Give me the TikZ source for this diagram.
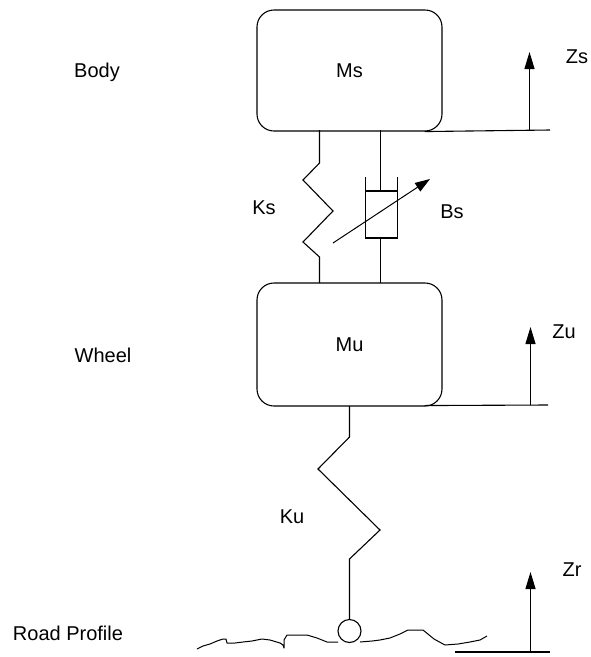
\documentclass[tikz,border=0pt]{standalone}
\usepackage{fontspec}
\setmainfont{Liberation Sans}
\usetikzlibrary{arrows.meta}
\begin{document}
\begin{tikzpicture}[x=1pt,y=-1pt,
  line width=1.1pt,
  lbl/.style={font=\fontsize{20}{23}\selectfont, inner sep=0pt},
  mass/.style={draw, rounded corners=17pt, minimum width=185pt, inner sep=0pt, font=\fontsize{20}{23}\selectfont},
  motion/.style={-{Triangle[length=17pt,width=10pt]}},
  wire/.style={line width=1.1pt}]
\useasboundingbox (0,0) rectangle (591,657);
% masses
\node[mass, minimum height=121pt] (ms) at (349.5,70.5) {Ms};
\node[mass, minimum height=123pt] (mu) at (349.5,344.5) {Mu};
% side labels
\node[lbl] (body) at (97,72) {Body};
\node[lbl] (wheel) at (103,355) {Wheel};
\node[lbl] (road) at (68,633) {Road Profile};
% reference lines and motion arrows
\coordinate (zsl) at (550,130);
\coordinate (zsb) at (529.5,130);
\coordinate (zst) at (529.5,52);
\draw[wire] (ms.south east) ++(-18pt,0) -- (zsl);
\draw[motion] (zsb) -- (zst);
\node[lbl] (zs) at (577,57) {Zs};
\coordinate (zul) at (548,405);
\coordinate (zub) at (530.5,405);
\coordinate (zut) at (530.5,327);
\draw[wire] (mu.south east) ++(-18pt,-1) -- (zul);
\draw[motion] (zub) -- (zut);
\node[lbl] (zu) at (564,332) {Zu};
\coordinate (zrl) at (455,652);
\coordinate (zrr) at (550,652);
\coordinate (zrb) at (530.5,652);
\coordinate (zrt) at (530.5,572);
\draw[wire] (zrl) -- (zrr);
\draw[motion] (zrb) -- (zrt);
\node[lbl] (zr) at (572,570) {Zr};
% suspension spring Ks
\draw[wire] (319.5,130) -- (319.5,163) -- (303,180) -- (333,211) -- (303,242) -- (319.5,257) -- (319.5,283);
\node[lbl] (ks) at (264,208) {Ks};
% damper Bs
\draw[wire] (380.5,130) -- (380.5,191);
\draw[wire] (365.5,191) -- (397.5,191);
\draw[wire] (365.5,177) -- (365.5,238) -- (397.5,238) -- (397.5,177);
\draw[wire] (380.5,238) -- (380.5,283);
\draw[line width=1pt,-{Triangle[length=15pt,width=10pt]}] (333,243) -- (430,179);
\node[lbl] (bs) at (452,212) {Bs};
% tyre spring Ku
\node[draw, circle, minimum size=23pt, inner sep=0pt] (tyre) at (349.5,631) {};
\draw[wire] (349.5,406) -- (349.5,437) -- (318,469) -- (380,530) -- (349.5,559) -- (tyre.north);
\node[lbl] (ku) at (292,517) {Ku};
% road profile
\draw[line width=1pt, line join=round] (197,649) -- (203,646) -- (210,644) -- (217,641) -- (223,639) -- (226,639) -- (227,643)
  -- (235,643) -- (243,642) -- (252,641) -- (262,639) -- (270,640) -- (280,643) -- (283,645) -- (284,648)
  -- (284,640) -- (287,635) -- (297,635) -- (307,635) -- (317,638) -- (327,642) -- (338,642);
\draw[line width=1pt, line join=round] (360,642) -- (372,641) -- (380,640) -- (390,638) -- (400,634) -- (408,630) -- (423,630)
  -- (434,639) -- (445,645) -- (458,644) -- (470,642) -- (480,640) -- (487,636);
\end{tikzpicture}
\end{document}
